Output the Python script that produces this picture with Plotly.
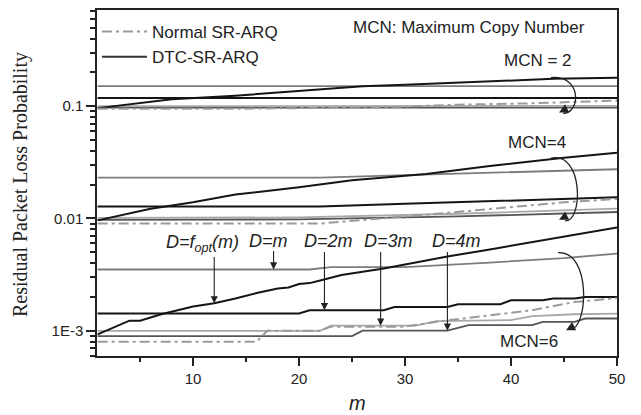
import numpy as np
import plotly.graph_objects as go

# ---------------------------------------------------------------
# Residual packet loss probability versus m, for three maximum
# copy numbers (MCN = 2, 4, 6). Each group: normal SR-ARQ and
# DTC-SR-ARQ with D = f_opt(m), m, 2m, 3m, 4m.
# ---------------------------------------------------------------

# ---- MCN = 2 ----
m_mcn2_normal = [1, 15, 25, 30, 35, 42, 50]
mcn2_normal = [0.095, 0.095, 0.097, 0.099, 0.103, 0.106, 0.112]
m_mcn2_fopt = [1, 5, 8, 14, 20, 26, 30, 35, 40, 44, 50]
mcn2_fopt = [0.096, 0.106, 0.115, 0.124, 0.137, 0.150, 0.155, 0.162, 0.169, 0.175, 0.179]
m_mcn2_d1 = [1, 50]
mcn2_d1 = [0.151, 0.151]
m_mcn2_d2 = [1, 50]
mcn2_d2 = [0.118, 0.118]
m_mcn2_d3 = [1, 50]
mcn2_d3 = [0.100, 0.1005]
m_mcn2_d4 = [1, 50]
mcn2_d4 = [0.097, 0.097]

# ---- MCN = 4 ----
m_mcn4_normal = [1, 22, 33, 45, 50]
mcn4_normal = [0.0090, 0.0090, 0.0110, 0.0139, 0.0149]
m_mcn4_fopt = [1, 3, 6, 10, 14, 20, 25, 32, 38, 45, 50]
mcn4_fopt = [0.0096, 0.0106, 0.0122, 0.0139, 0.0163, 0.0189, 0.0219, 0.0248, 0.0293, 0.0347, 0.0384]
m_mcn4_d1 = [1, 22, 30, 40, 50]
mcn4_d1 = [0.0231, 0.0231, 0.0243, 0.0258, 0.0274]
m_mcn4_d2 = [1, 22, 30, 40, 50]
mcn4_d2 = [0.01274, 0.01274, 0.0135, 0.0145, 0.0154]
m_mcn4_d3 = [1, 20, 35, 50]
mcn4_d3 = [0.0101, 0.0102, 0.0110, 0.0122]
m_mcn4_d4 = [1, 20, 35, 50]
mcn4_d4 = [0.0097, 0.0098, 0.0104, 0.0114]

# ---- MCN = 6 ----
m_mcn6_normal = [1, 16, 17, 22, 23, 30, 33, 38, 42, 46, 50]
mcn6_normal = [7.96e-4, 7.96e-4, 9.96e-4, 9.96e-4, 1.085e-3, 1.085e-3, 1.202e-3,
               1.372e-3, 1.519e-3, 1.80e-3, 1.95e-3]
m_mcn6_fopt = [1, 4, 5, 7, 10, 12, 14, 16, 18, 19, 20, 21, 22, 24, 26, 28, 31, 34,
               38, 41, 46, 50]
mcn6_fopt = [9.25e-4, 1.226e-3, 1.226e-3, 1.40e-3, 1.64e-3, 1.75e-3, 1.93e-3, 2.16e-3,
             2.37e-3, 2.42e-3, 2.60e-3, 2.65e-3, 2.80e-3, 3.13e-3, 3.35e-3, 3.57e-3,
             4.04e-3, 4.57e-3, 5.29e-3, 5.93e-3, 7.16e-3, 8.30e-3]
m_mcn6_d1 = [1, 21, 23, 30, 38, 45, 50]
mcn6_d1 = [3.505e-3, 3.505e-3, 3.673e-3, 3.673e-3, 4.04e-3, 4.43e-3, 4.86e-3]
m_mcn6_d2 = [1, 20, 21, 28, 29, 34, 35, 39, 40, 43, 44, 46, 47, 50]
mcn6_d2 = [1.42e-3, 1.42e-3, 1.519e-3, 1.519e-3, 1.624e-3, 1.624e-3, 1.717e-3,
           1.717e-3, 1.863e-3, 1.863e-3, 1.929e-3, 1.929e-3, 1.99e-3, 1.99e-3]
m_mcn6_d3 = [1, 22, 23, 31, 33, 40, 42, 46, 50]
mcn6_d3 = [9.96e-4, 9.96e-4, 1.107e-3, 1.107e-3, 1.214e-3, 1.239e-3, 1.344e-3, 1.40e-3, 1.42e-3]
m_mcn6_d4 = [1, 25, 26, 34, 36, 42, 43, 46, 47, 50]
mcn6_d4 = [8.94e-4, 8.94e-4, 1.0e-3, 1.0e-3, 1.119e-3, 1.119e-3, 1.197e-3, 1.197e-3,
           1.282e-3, 1.282e-3]

# axis ticks
x_tickvals = [10, 20, 30, 40, 50]
x_minor = [5, 15, 25, 35, 45]
y_tickvals = [1e-3, 1e-2, 1e-1]
y_ticktext = ["1E-3", "0.01", "0.1"]
y_minor = [k * 10.0 ** e for e in (-4, -3, -2, -1) for k in range(2, 10)]

# ---------------------------------------------------------------
W, H = 641, 415
ML, MR, MT, MB = 97, 24, 8, 59
PW, PH = W - ML - MR, H - MT - MB
X_RANGE = [0.94, 50]
Y_RANGE = [-3.226, -0.1435]  # log10 units


def xp(px):
    """page pixel x -> paper fraction"""
    return (px - ML) / PW


def yp(py):
    """page pixel y -> paper fraction"""
    return (H - MB - py) / PH


def ylog_at_px(py):
    return Y_RANGE[1] - (py - MT) / PH * (Y_RANGE[1] - Y_RANGE[0])


BLACK = "#151515"
GRAY = "#7c7c7c"
LIGHT = "#a8a8a8"
DARK = "#555555"
DASH_GRAY = "#9a9a9a"
DASHDOT = "10px,4px,3px,4px"

fig = go.Figure()

groups = [
    (m_mcn2_normal, mcn2_normal, m_mcn2_fopt, mcn2_fopt, m_mcn2_d1, mcn2_d1,
     m_mcn2_d2, mcn2_d2, m_mcn2_d3, mcn2_d3, m_mcn2_d4, mcn2_d4),
    (m_mcn4_normal, mcn4_normal, m_mcn4_fopt, mcn4_fopt, m_mcn4_d1, mcn4_d1,
     m_mcn4_d2, mcn4_d2, m_mcn4_d3, mcn4_d3, m_mcn4_d4, mcn4_d4),
    (m_mcn6_normal, mcn6_normal, m_mcn6_fopt, mcn6_fopt, m_mcn6_d1, mcn6_d1,
     m_mcn6_d2, mcn6_d2, m_mcn6_d3, mcn6_d3, m_mcn6_d4, mcn6_d4),
]

first = True
for (mn, vn, mf, vf, m1, v1, m2, v2, m3, v3, m4, v4) in groups:
    # DTC-SR-ARQ family: D = 4m, 3m, m, 2m, f_opt(m)
    for mm, vv, col, w in [(m4, v4, DARK, 1.8), (m3, v3, LIGHT, 1.8),
                           (m1, v1, GRAY, 1.8), (m2, v2, BLACK, 2.0),
                           (mf, vf, BLACK, 2.0)]:
        fig.add_trace(go.Scatter(x=mm, y=vv, mode="lines",
                                 line=dict(color=col, width=w),
                                 name="DTC-SR-ARQ", legendgroup="dtc",
                                 showlegend=False, hoverinfo="skip"))
    fig.add_trace(go.Scatter(x=mn, y=vn, mode="lines",
                             line=dict(color=DASH_GRAY, width=2, dash=DASHDOT),
                             name="Normal SR-ARQ", legendgroup="normal",
                             showlegend=first, legendrank=1, hoverinfo="skip"))
    first = False

# legend sample for the DTC family
fig.add_trace(go.Scatter(x=[None], y=[None], mode="lines",
                         line=dict(color="#333333", width=2),
                         name="DTC-SR-ARQ", legendgroup="dtc", legendrank=2,
                         showlegend=True))

annotations = []
shapes = []
TXT = dict(family="Arial, Liberation Sans, sans-serif", color="#222222")


def label(text, cx, cy, size, **kw):
    d = dict(xref="paper", yref="paper", x=xp(cx), y=yp(cy), text=text,
             showarrow=False, xanchor="center", yanchor="middle",
             font=kw.pop("font", dict(size=size, **TXT)))
    d.update(kw)
    return d


annotations.append(label("MCN: Maximum Copy Number", 469, 26, 17))
for text, cx, cy in [("MCN = 2", 538, 59), ("MCN=4", 537, 141), ("MCN=6", 529, 341)]:
    annotations.append(label(text, cx, cy, 17))

# curved arrows bracketing each MCN group (page pixels)
arcs = [
    ((551, 76), (582, 73), (581, 112), (563, 112), (559, 111)),
    ((551, 157), (584, 150), (583, 222), (565, 220), (559, 219)),
    ((558, 252), (592, 250), (588, 330), (570, 329), (566, 330)),
]
for p0, c1, c2, p1, tip in arcs:
    path = "M {},{} C {},{} {},{} {},{}".format(
        xp(p0[0]), yp(p0[1]), xp(c1[0]), yp(c1[1]),
        xp(c2[0]), yp(c2[1]), xp(p1[0]), yp(p1[1]))
    shapes.append(dict(type="path", xref="paper", yref="paper", path=path,
                       line=dict(color="#222222", width=1.3)))
    annotations.append(dict(xref="paper", yref="paper", x=xp(tip[0]), y=yp(tip[1]),
                            ax=6, ay=-3, text="", showarrow=True, arrowhead=2,
                            arrowsize=1.4, arrowwidth=1.3, arrowcolor="#222222"))


# D labels with vertical arrows pointing at their curves
def on_curve(m, ms, vs):
    return float(np.interp(m, ms, np.log10(vs)))


d_labels = [
    ("<i>D=f<sub>opt</sub>(m)</i>", 202, 12.0, m_mcn6_fopt, mcn6_fopt, 255),
    ("<i>D=m</i>", 268, 17.6, m_mcn6_d1, mcn6_d1, 249),
    ("<i>D=2m</i>", 328, 22.4, m_mcn6_d2, mcn6_d2, 250),
    ("<i>D=3m</i>", 388, 27.7, m_mcn6_d3, mcn6_d3, 250),
    ("<i>D=4m</i>", 456, 34.0, m_mcn6_d4, mcn6_d4, 250),
]
for text, cx, m_tip, ms, vs, tail_px in d_labels:
    cy = 243 if "sub" in text else 240
    annotations.append(label(text, cx, cy, 18))
    annotations.append(dict(xref="x", yref="y", x=m_tip, y=on_curve(m_tip, ms, vs),
                            axref="x", ayref="y", ax=m_tip, ay=ylog_at_px(tail_px),
                            text="", showarrow=True, arrowhead=2, arrowsize=1.3,
                            arrowwidth=1.1, arrowcolor="#222222"))

# axis titles
annotations.append(label("Residual Packet Loss Probability", 21, 184, 20, textangle=-90,
                         font=dict(family="Times New Roman, Liberation Serif, serif",
                                   size=20, color="#222222")))
annotations.append(label("<i>m</i>", 357, 403, 20))

fig.update_layout(
    width=W, height=H,
    margin=dict(l=ML, r=MR, t=MT, b=MB, pad=0),
    paper_bgcolor="white", plot_bgcolor="white",
    font=dict(family="Arial, Liberation Sans, sans-serif", size=15, color="#222222"),
    showlegend=True,
    legend=dict(x=0.0, y=1 - 4 / PH, xanchor="left", yanchor="top",
                bgcolor="rgba(0,0,0,0)", font=dict(size=17, **TXT),
                itemwidth=45, tracegroupgap=0, traceorder="normal"),
    annotations=annotations, shapes=shapes,
)
fig.update_xaxes(range=X_RANGE, tickmode="array", tickvals=x_tickvals,
                 ticks="outside", ticklen=8, tickwidth=1.5, tickcolor="#222222",
                 showline=True, linecolor="#222222", linewidth=1.5, mirror=True,
                 showgrid=False, zeroline=False,
                 minor=dict(tickmode="array", tickvals=x_minor, ticks="outside",
                            ticklen=4, tickwidth=1.5, tickcolor="#222222", showgrid=False),
                 tickfont=dict(size=15))
fig.update_yaxes(type="log", range=Y_RANGE, tickmode="array", tickvals=y_tickvals,
                 ticktext=y_ticktext, ticks="outside", ticklen=9, tickwidth=1.5,
                 tickcolor="#222222", showline=True, linecolor="#222222",
                 linewidth=1.5, mirror=True, showgrid=False, zeroline=False,
                 minor=dict(tickmode="array", tickvals=y_minor, ticks="outside",
                            ticklen=5, tickwidth=1.5, tickcolor="#222222", showgrid=False),
                 tickfont=dict(size=15))

fig.write_html("out.html")
